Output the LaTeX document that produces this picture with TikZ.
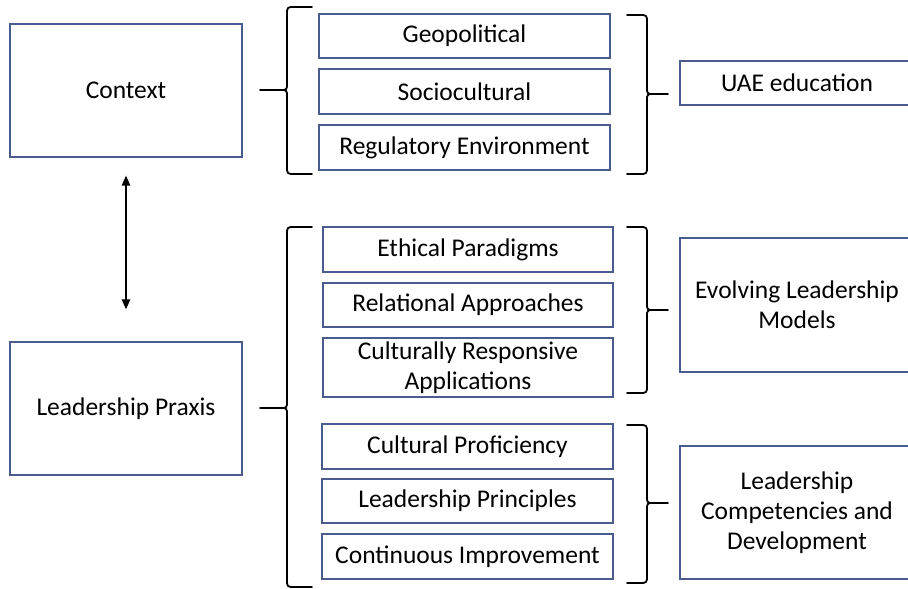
\documentclass[tikz,border=0pt]{standalone}
\usepackage{fontspec}
\setmainfont{Carlito}
\usetikzlibrary{arrows.meta}
\definecolor{boxline}{HTML}{4A5C8E}
\newcommand{\mybraceL}[4]{%
  \draw[bracestyle] (#1+52,#3) -- (#1+35,#3) .. controls (#1+27,#3) .. (#1+27,#3+8) -- (#1+27,#2-7) .. controls (#1+27,#2) .. (#1+20,#2) -- (#1,#2);
  \draw[bracestyle] (#1+20,#2) .. controls (#1+27,#2) .. (#1+27,#2+7) -- (#1+27,#4-8) .. controls (#1+27,#4) .. (#1+35,#4) -- (#1+52,#4);}
\newcommand{\mybraceR}[4]{%
  \draw[bracestyle] (#1-41,#3) -- (#1-29,#3) .. controls (#1-21,#3) .. (#1-21,#3+8) -- (#1-21,#2-7) .. controls (#1-21,#2) .. (#1-14,#2) -- (#1,#2);
  \draw[bracestyle] (#1-14,#2) .. controls (#1-21,#2) .. (#1-21,#2+7) -- (#1-21,#4-8) .. controls (#1-21,#4) .. (#1-29,#4) -- (#1-41,#4);}
\newcommand{\shl}{\hspace*{-32pt}}
\begin{document}
\begin{tikzpicture}[x=1pt,y=-1pt,
  box/.style={draw=boxline,line width=1.3pt,fill=white,inner sep=0pt,align=center,
    font=\fontsize{25.5}{30}\selectfont},
  rbox/.style={box,minimum width=266pt},
  bracestyle/.style={draw=black,line width=1.8pt,line cap=round,line join=round},
  arr/.style={line width=1.5pt,{Triangle[length=10pt,width=8.5pt]}-{Triangle[length=10pt,width=8.5pt]}}]
\useasboundingbox (0,0) rectangle (908,589);
\clip (0,0) rectangle (908,589);
\fill[white] (0,0) rectangle (908,589);
% left boxes
\node[box,minimum width=232pt,minimum height=133pt] (ctx) at (126,90.5) {Context};
\node[box,minimum width=232pt,minimum height=133pt] (praxis) at (126,408.5) {Leadership Praxis};
% context group
\node[box,minimum width=291pt,minimum height=44pt] (geo) at (464.5,36) {Geopolitical};
\node[box,minimum width=291pt,minimum height=45pt] (soc) at (464.5,91.5) {Sociocultural};
\node[box,minimum width=291pt,minimum height=45pt] (reg) at (464.5,147.5) {Regulatory Environment};
\node[rbox,minimum height=44pt] (uae) at (813,83) {\shl UAE education};
% evolving group
\node[box,minimum width=290pt,minimum height=45pt] (eth) at (468,249.5) {Ethical Paradigms};
\node[box,minimum width=290pt,minimum height=44pt] (rel) at (468,305) {Relational Approaches};
\node[box,minimum width=290pt,minimum height=59pt] (cra) at (468,367.5) {Culturally Responsive\\Applications};
\node[rbox,minimum height=134pt] (evo) at (813,305) {\shl Evolving Leadership\\\shl Models};
% competencies group
\node[box,minimum width=291pt,minimum height=45pt] (cp) at (467.5,446.5) {Cultural Proficiency};
\node[box,minimum width=291pt,minimum height=44pt] (lp) at (467.5,501) {Leadership Principles};
\node[box,minimum width=291pt,minimum height=45pt] (ci) at (467.5,556.5) {Continuous Improvement};
\node[rbox,minimum height=133pt] (comp) at (813,512.5) {\shl Leadership\\\shl Competencies and\\\shl Development};
% arrow
\draw[arr,shorten <=18pt,shorten >=32pt] (ctx.south) -- (praxis.north);
% braces
\mybraceL{260}{90}{7}{174}
\mybraceR{668}{94}{15}{174}
\mybraceL{260}{408}{227}{587}
\mybraceR{668}{310}{227}{393}
\mybraceR{668}{503}{425}{583}
\end{tikzpicture}
\end{document}
